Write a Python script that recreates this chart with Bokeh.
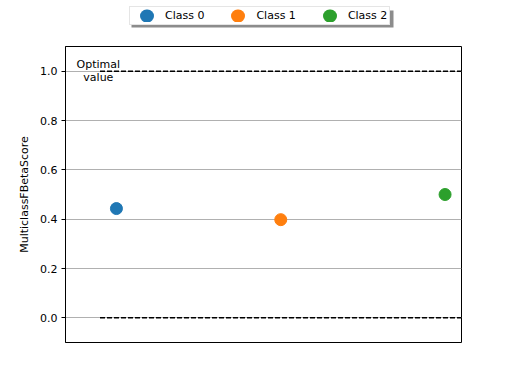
from bokeh.plotting import figure
from bokeh.layouts import column
from bokeh.models import Range1d, Legend, LegendItem, FixedTicker, ColumnDataSource
from bokeh.core.properties import value
from bokeh.embed import file_html
from bokeh.resources import INLINE

classes = ["Class 0", "Class 1", "Class 2"]
class_pos = [0, 1, 2]
scores = [0.443, 0.398, 0.500]
colors = ["#1f77b4", "#ff7f0e", "#2ca02c"]
optimal_value = 1.0
worst_value = 0.0
ref_x = [-0.1, 2.1]
y_ticks = [0.0, 0.2, 0.4, 0.6, 0.8, 1.0]

FONT = "DejaVu Sans"
W = 496
LEG_H = 30
FRAME_W = 396  # frames of both stacked figures line up (left border 65)

# ---------------- legend strip (top) ----------------
lf = figure(width=W, height=LEG_H, output_backend="svg", toolbar_location=None,
            x_range=Range1d(0, FRAME_W), y_range=Range1d(0, LEG_H),
            x_axis_location=None, y_axis_location=None)
lf.min_border_left = 65
lf.min_border_right = 35
lf.min_border_top = 0
lf.min_border_bottom = 0
lf.outline_line_color = None
lf.xgrid.visible = False
lf.ygrid.visible = False
lf.background_fill_color = "white"
lf.border_fill_color = "white"

# legend drop shadow (pixel units of the strip's frame)
lf.quad(left=[66], right=[328], bottom=[3], top=[20], fill_color="#8c8c8c",
        line_color=None)

items = []
for i in range(len(classes)):
    src = ColumnDataSource(dict(x=[class_pos[i]], y=[scores[i]]))
    # legend proxy: a single-point line draws nothing; in the legend its
    # round-capped, dashed stroke shows as a dot
    proxy = lf.line("x", "y", source=src, line_color=colors[i], line_width=13,
                    line_cap="round", line_dash="1 100", line_dash_offset=87)
    items.append(LegendItem(label=classes[i], renderers=[proxy]))

legend = Legend(items=items, orientation="horizontal", location=(64, 5),
                label_text_font=FONT, label_text_font_size="11px",
                label_text_color="black",
                border_line_color="#cccccc", border_line_width=1,
                background_fill_color="white", background_fill_alpha=1.0,
                padding=2, spacing=19, glyph_width=29, glyph_height=13,
                label_standoff=4, margin=0)
lf.add_layout(legend, "center")

# ---------------- main plot ----------------
p = figure(width=W, height=368 - LEG_H, output_backend="svg", toolbar_location=None,
           x_range=Range1d(-0.31, 2.1), y_range=Range1d(-0.1, 1.1))
p.min_border_left = 65
p.min_border_right = 35
p.min_border_top = 46 - LEG_H
p.min_border_bottom = 26
p.outline_line_color = "black"
p.outline_line_width = 1
p.background_fill_color = "white"
p.border_fill_color = "white"

p.xaxis.visible = False
p.xgrid.visible = False
p.ygrid.ticker = FixedTicker(ticks=y_ticks)
p.ygrid.grid_line_color = "#b0b0b0"
p.ygrid.grid_line_width = 1

yax = p.yaxis[0]
yax.ticker = FixedTicker(ticks=y_ticks)
yax.major_label_overrides = {t: f"{t:.1f}" for t in y_ticks}
yax.minor_tick_line_color = None
yax.major_tick_in = 0
yax.major_tick_out = 4
yax.major_tick_line_color = "black"
yax.axis_line_color = "black"
yax.major_label_text_font = FONT
yax.major_label_text_font_size = "11px"
yax.major_label_text_color = "black"
yax.major_label_standoff = 4
yax.axis_label = "MulticlassFBetaScore"
yax.axis_label_text_font = FONT
yax.axis_label_text_font_size = "11px"
yax.axis_label_text_font_style = "normal"
yax.axis_label_text_color = "black"
yax.axis_label_standoff = 6

for yv in [optimal_value, worst_value]:
    p.line(x=ref_x, y=[yv, yv], line_color="black", line_width=1.5, line_dash="5 2")

p.text(x=[-0.11], y=[optimal_value], text=["Optimal\nvalue"], text_align="center",
       text_baseline="middle", text_font=value(FONT), text_font_size="11px",
       text_color="black", text_line_height=1.0)

for i in range(len(classes)):
    src = ColumnDataSource(dict(x=[class_pos[i]], y=[scores[i]]))
    p.scatter("x", "y", source=src, size=12, fill_color=colors[i], line_color=colors[i])

layout = column(lf, p, spacing=0)
open("out.html", "w").write(file_html(layout, INLINE))
